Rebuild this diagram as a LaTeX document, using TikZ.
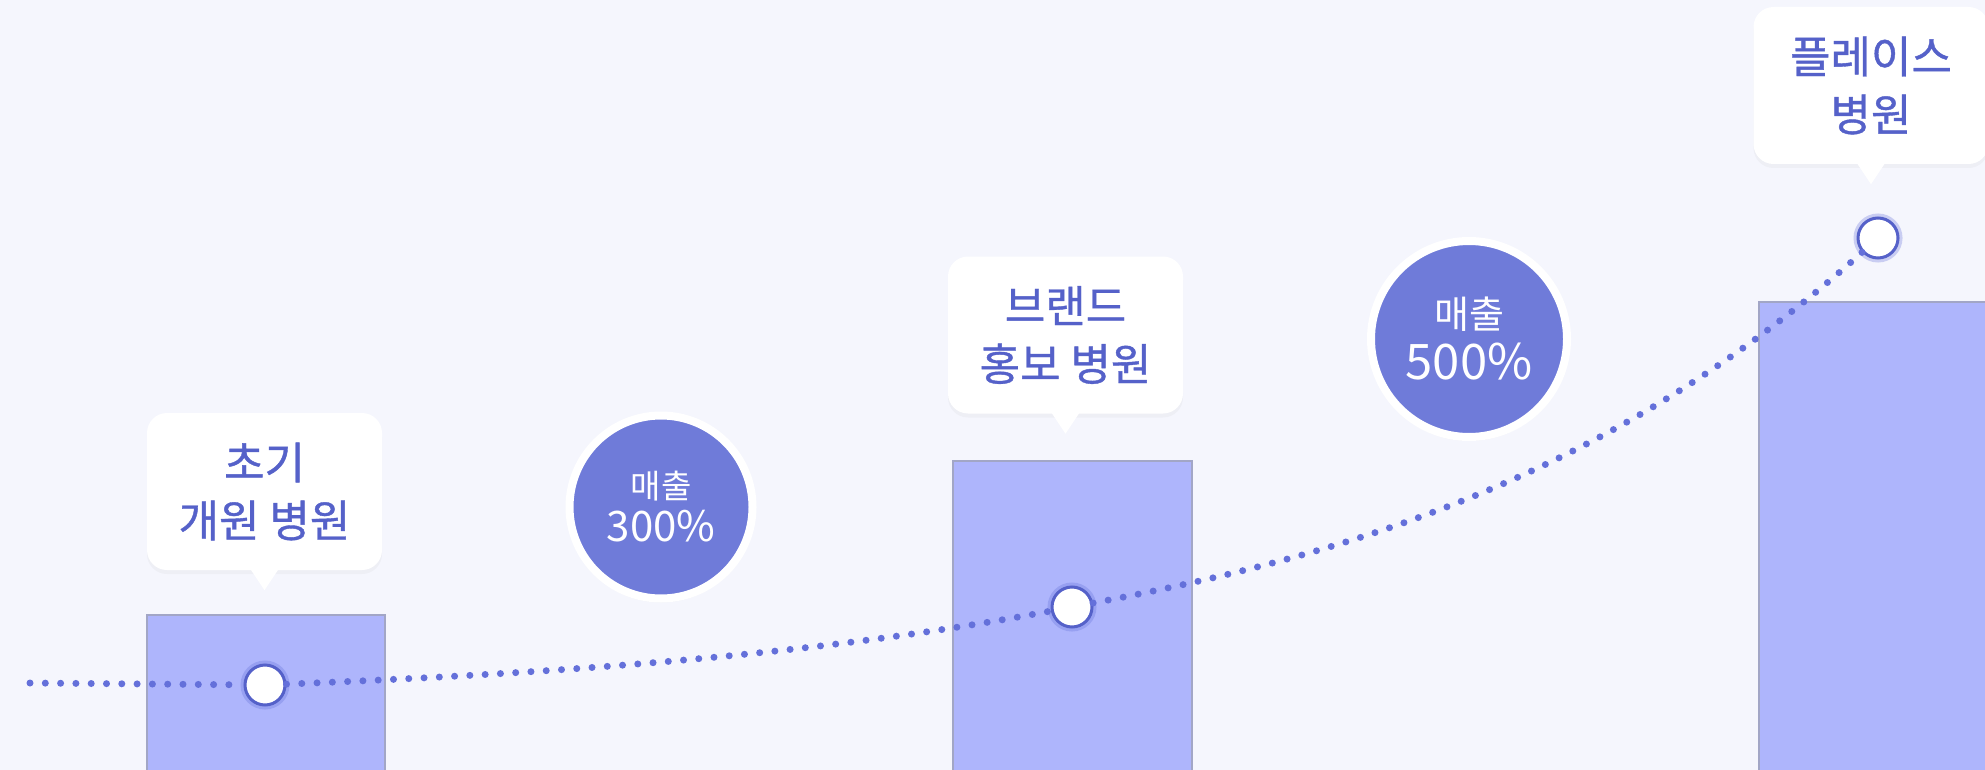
\documentclass[tikz,border=0pt]{standalone}
\usepackage{fontspec}
\setmainfont{Noto Sans CJK KR}
\newfontfamily\medfont[FakeBold=0.9]{Noto Sans CJK KR}
\usetikzlibrary{shadows}
\definecolor{bgcol}{HTML}{F5F6FD}
\definecolor{barcol}{HTML}{AEB5FC}
\definecolor{barline}{HTML}{A2A6C6}
\definecolor{inkcol}{HTML}{5561C9}
\definecolor{dotcol}{HTML}{6470DA}
\definecolor{salecol}{HTML}{6F7BD9}
\begin{document}
\begin{tikzpicture}[x=1pt,y=-1pt,
    bubble/.style={fill=white, rounded corners=20pt, minimum width=235pt, minimum height=157pt,
      inner sep=0pt, align=center, text=inkcol, font=\medfont\fontsize{44}{58}\selectfont,
      drop shadow={opacity=0.06, shadow xshift=0pt, shadow yshift=-4pt}},
    sale/.style={circle, fill=salecol, draw=white, line width=8pt, inner sep=0pt,
      align=center, text=white,
      drop shadow={opacity=0.07, shadow xshift=0pt, shadow yshift=-4pt}},
    marker/.style={circle, fill=white, draw=inkcol, line width=3pt, minimum size=40pt, inner sep=0pt,
      preaction={draw=dotcol, line width=9pt, draw opacity=0.3}},
    trend/.style={draw=dotcol, line width=7pt, line cap=round, dash pattern=on 0pt off 15.3pt},
    bar/.style={fill=barcol, draw=barline, line width=1.5pt}]

        \clip (0,0) rectangle (1985,770);
        \fill[bgcol] (0,0) rectangle (1985,770);

        \draw[bar] (147,780) rectangle (385,615);
        \draw[bar] (953,780) rectangle (1192,461);
        \draw[bar] (1759,780) rectangle (2000,302);

        \node[marker] (n1) at (265,685) {};
        \node[marker] (n2) at (1072,607) {};
        \node[marker] (n3) at (1878,238) {};
        \coordinate (s0) at (30,683);

        \draw[trend] (s0) -- (n1);
        \draw[trend] (n1) .. controls +(269,-11) and +(-269,51) .. (n2);
        \draw[trend] (n2) .. controls +(269,-51) and +(-269,242) .. (n3);

        \node[bubble] (b1) at (264.5,491.5) {초기\\개원 병원};
        \node[bubble] (b2) at (1065.5,335) {브랜드\\홍보 병원};
        \node[bubble] (b3) at (1871,85.5) {플레이스\\병원};
        \fill[white] ([xshift=-14pt,yshift=1pt]b1.south) -- ++(14,21) -- ([xshift=14pt,yshift=1pt]b1.south) -- cycle;
        \fill[white] ([xshift=-14pt,yshift=1pt]b2.south) -- ++(14,21) -- ([xshift=14pt,yshift=1pt]b2.south) -- cycle;
        \fill[white] ([xshift=-14pt,yshift=1pt]b3.south) -- ++(14,21) -- ([xshift=14pt,yshift=1pt]b3.south) -- cycle;

        \node[sale, minimum size=183pt, font=\fontsize{42}{43}\selectfont] (r1) at (661,507)
            {{\fontsize{33}{36}\selectfont 매출}\\300\%};
        \node[sale, minimum size=196pt, font=\fontsize{49}{51}\selectfont] (r2) at (1469,339)
            {{\fontsize{38}{42}\selectfont 매출}\\500\%};
    \end{tikzpicture}
\end{document}
